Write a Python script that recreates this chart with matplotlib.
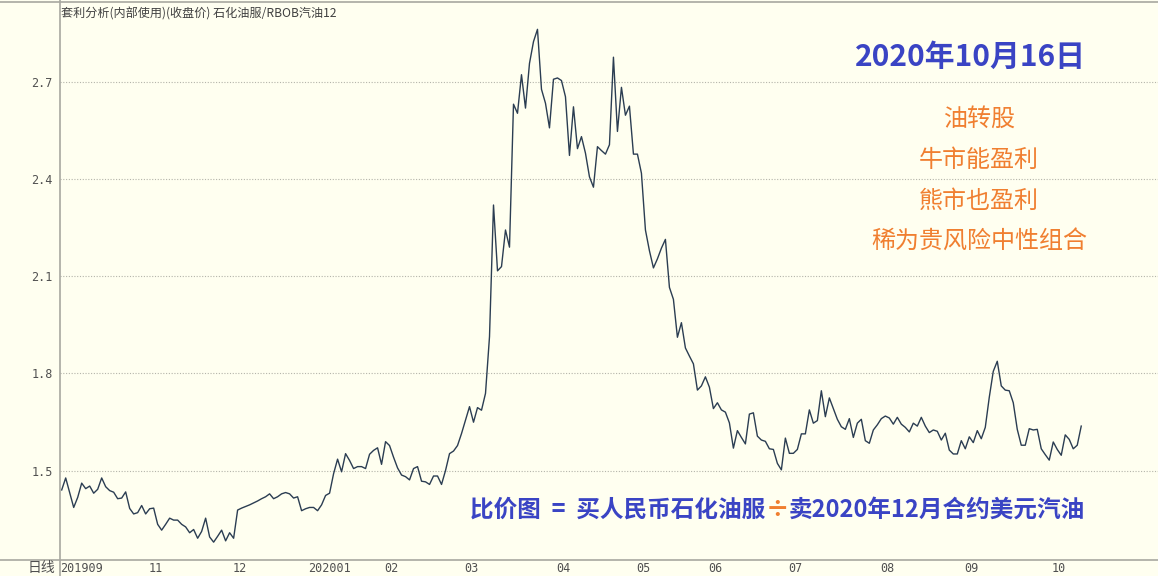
import matplotlib

matplotlib.use("Agg")
import matplotlib.pyplot as plt
from matplotlib import transforms
from matplotlib.lines import Line2D

plt.rcParams["font.family"] = ["Noto Sans CJK SC", "DejaVu Sans"]

# 石化油服 / RBOB汽油12 close-price ratio, one value per trading day
ratio = [
    1.440, 1.477, 1.432, 1.386, 1.417, 1.461, 1.444, 1.452, 1.430, 1.442,
    1.477, 1.450, 1.438, 1.433, 1.413, 1.415, 1.434, 1.383, 1.366, 1.370,
    1.392, 1.366, 1.382, 1.384, 1.334, 1.316, 1.334, 1.353, 1.347, 1.347,
    1.334, 1.326, 1.308, 1.318, 1.291, 1.312, 1.353, 1.295, 1.279, 1.297,
    1.316, 1.283, 1.308, 1.291, 1.378, 1.384, 1.389, 1.394, 1.400, 1.406,
    1.413, 1.419, 1.428, 1.413, 1.419, 1.428, 1.432, 1.428, 1.415, 1.419,
    1.376, 1.382, 1.386, 1.386, 1.376, 1.394, 1.423, 1.430, 1.490, 1.535,
    1.496, 1.552, 1.531, 1.506, 1.512, 1.512, 1.506, 1.550, 1.562, 1.570,
    1.519, 1.589, 1.577, 1.541, 1.508, 1.486, 1.481, 1.471, 1.506, 1.512,
    1.467, 1.465, 1.457, 1.483, 1.483, 1.457, 1.500, 1.552, 1.560, 1.577,
    1.614, 1.655, 1.697, 1.649, 1.694, 1.686, 1.738, 1.913, 2.319, 2.116,
    2.129, 2.242, 2.189, 2.630, 2.602, 2.721, 2.618, 2.756, 2.823, 2.861,
    2.676, 2.633, 2.557, 2.707, 2.711, 2.703, 2.653, 2.472, 2.622, 2.493,
    2.530, 2.479, 2.406, 2.374, 2.499, 2.487, 2.476, 2.505, 2.775, 2.546,
    2.682, 2.596, 2.624, 2.476, 2.476, 2.417, 2.242, 2.178, 2.125, 2.153,
    2.186, 2.213, 2.065, 2.028, 1.911, 1.956, 1.878, 1.853, 1.829, 1.748,
    1.761, 1.789, 1.757, 1.691, 1.709, 1.687, 1.680, 1.647, 1.569, 1.623,
    1.602, 1.582, 1.674, 1.678, 1.606, 1.594, 1.590, 1.567, 1.565, 1.522,
    1.502, 1.600, 1.553, 1.553, 1.565, 1.613, 1.613, 1.687, 1.646, 1.654,
    1.746, 1.666, 1.724, 1.691, 1.658, 1.635, 1.627, 1.660, 1.602, 1.646,
    1.658, 1.592, 1.584, 1.625, 1.641, 1.660, 1.668, 1.662, 1.643, 1.664,
    1.643, 1.633, 1.619, 1.646, 1.637, 1.664, 1.637, 1.617, 1.625, 1.621,
    1.594, 1.615, 1.563, 1.551, 1.551, 1.592, 1.567, 1.604, 1.586, 1.623,
    1.598, 1.633, 1.726, 1.806, 1.837, 1.761, 1.748, 1.746, 1.709, 1.627,
    1.578, 1.578, 1.629, 1.625, 1.627, 1.567, 1.549, 1.532, 1.588, 1.565,
    1.547, 1.610, 1.596, 1.567, 1.578, 1.637,
]
month_labels = ["201909", "11", "12", "202001", "02", "03", "04",
                "05", "06", "07", "08", "09", "10"]
month_starts = [0, 22, 43, 62, 81, 101, 124, 144, 162, 182, 205, 226, 248]
grid_levels = [1.5, 1.8, 2.1, 2.4, 2.7]

title = "套利分析(内部使用)(收盘价) 石化油服/RBOB汽油12"
date_text = "2020年10月16日"
notes = ["油转股", "牛市能盈利", "熊市也盈利", "稀为贵风险中性组合"]
formula = ["比价图  =  买人民币石化油服", "÷", "卖2020年12月合约美元汽油"]

BG = "#fffff0"
FRAME = "#a8a8a0"
BLUE = "#3a44c4"
ORANGE = "#f07f30"

W, H = 1158, 576
fig = plt.figure(figsize=(W / 100, H / 100), dpi=100, facecolor=BG)
ax = fig.add_axes([59.5 / W, 16 / H, 1 - 59.5 / W, (560 - 1) / H])
ax.set_facecolor(BG)

ax.plot(range(len(ratio)), ratio, color="#2b3d52", lw=1.0)
ax.set_xlim(-0.55, 274.2)
ax.set_ylim(1.2239, 2.9484)

for lvl in grid_levels:
    ax.axhline(lvl, color="#b4b4aa", lw=0.8, ls=(0, (1, 1.5)), zorder=0)

for s in ax.spines.values():
    s.set_visible(False)
ax.set_xticks([])
ax.set_yticks(grid_levels)
ax.set_yticklabels([f"{v:.1f}" for v in grid_levels],
                   family="DejaVu Sans Mono", fontsize=8.5, color="#505050")
ax.tick_params(axis="y", length=0, pad=5)

# frame lines of the trading-software panel
fig.add_artist(Line2D([59.5 / W] * 2, [0, 1], color=FRAME, lw=1.2))
fig.add_artist(Line2D([0, 1], [16 / H] * 2, color=FRAME, lw=1.2))
fig.add_artist(Line2D([0, 1], [1 - 1.5 / H] * 2, color=FRAME, lw=1.2))

# month labels under the axis
trans = transforms.blended_transform_factory(ax.transData, fig.transFigure)
for pos, lab in zip(month_starts, month_labels):
    ax.text(pos - 0.3, 8 / H, lab, transform=trans, ha="left", va="center",
            family="DejaVu Sans Mono", fontsize=8.5, color="#505050")
fig.text(55 / W, 8 / H, "日线", ha="right", va="center", fontsize=10,
         color="#505050")

fig.text(61 / W, 1 - 13.5 / H, title, ha="left", va="center", fontsize=8.7,
         color="#404040")

fig.text(970 / W, 1 - 57 / H, date_text, ha="center", va="center",
         fontsize=21.5, fontweight="bold", color=BLUE)
for txt, yc in zip(notes, [119, 160, 201, 241.5]):
    fig.text(979 / W, 1 - yc / H, txt, ha="center", va="center",
             fontsize=17.3, color=ORANGE)

# formula line: chain three pieces so the ÷ can be coloured differently
renderer = fig.canvas.get_renderer()
x0 = 470 / W
for txt, col in zip(formula, [BLUE, ORANGE, BLUE]):
    t = fig.text(x0, 1 - 510 / H, txt, ha="left", va="center",
                 fontsize=17, fontweight="bold", color=col)
    bb = t.get_window_extent(renderer)
    x0 = bb.x1 / W

fig.savefig("out.png", dpi=100, facecolor=BG)
